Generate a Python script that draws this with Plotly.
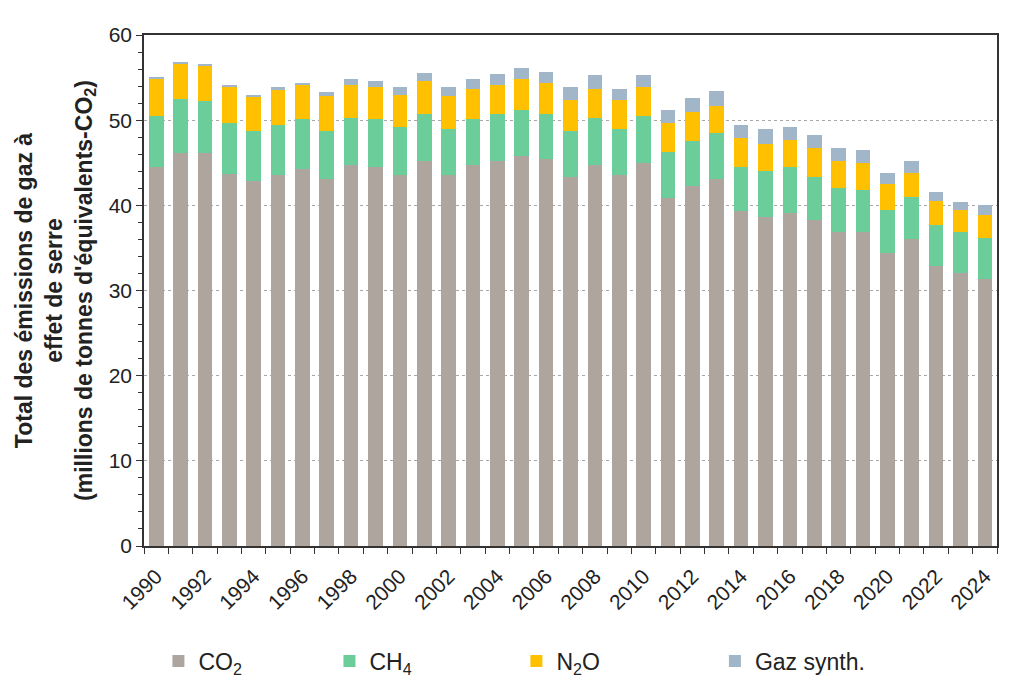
import plotly.graph_objects as go

years = list(range(1990, 2025))
co2 = [44.5, 46.2, 46.2, 43.7, 42.9, 43.6, 44.25, 43.1, 44.7, 44.5,
       43.55, 45.2, 43.55, 44.7, 45.2, 45.85, 45.4, 43.35, 44.7, 43.6,
       44.95, 40.9, 42.25, 43.15, 39.35, 38.65, 39.15, 38.25, 36.9, 36.9,
       34.45, 36.05, 32.9, 32.0, 31.35]
ch4 = [6.0, 6.26, 6.1, 5.95, 5.85, 5.8, 5.85, 5.65, 5.6, 5.6,
       5.6, 5.5, 5.45, 5.4, 5.55, 5.3, 5.35, 5.4, 5.6, 5.4,
       5.55, 5.35, 5.35, 5.35, 5.1, 5.4, 5.3, 5.05, 5.1, 4.95,
       4.95, 4.9, 4.85, 4.85, 4.8]
n2o = [4.35, 4.15, 4.15, 4.35, 4.05, 4.1, 4.1, 4.05, 3.85, 3.85,
       3.85, 3.9, 3.8, 3.6, 3.4, 3.65, 3.65, 3.6, 3.4, 3.35,
       3.45, 3.45, 3.4, 3.2, 3.45, 3.15, 3.2, 3.45, 3.2, 3.1,
       3.15, 2.9, 2.75, 2.55, 2.75]
synth = [0.15, 0.15, 0.15, 0.15, 0.2, 0.4, 0.15, 0.5, 0.65, 0.6,
         0.9, 0.9, 1.1, 1.1, 1.3, 1.35, 1.3, 1.55, 1.55, 1.35,
         1.3, 1.5, 1.55, 1.7, 1.55, 1.75, 1.55, 1.55, 1.55, 1.55,
         1.25, 1.3, 1.05, 1.05, 1.1]

series_names = ["CO<sub>2</sub>", "CH<sub>4</sub>", "N<sub>2</sub>O", "Gaz synth."]
series_values = [co2, ch4, n2o, synth]
colors = ["#AEA69E", "#6ACD9A", "#FFC000", "#A2B6C9"]
legend_ids = ["legend", "legend2", "legend3", "legend4"]
legend_x = [0.0169, 0.2174, 0.4366, 0.6693]

tick_years = list(range(1990, 2025, 2))
y_ticks = [0, 10, 20, 30, 40, 50, 60]

font_family = "Liberation Sans, Arial, sans-serif"

fig = go.Figure()
for name, vals, col, lg in zip(series_names, series_values, colors, legend_ids):
    fig.add_trace(go.Bar(x=years, y=vals, name=name, marker_color=col,
                         marker_line_width=0, legend=lg))

layout_legends = {}
for lg, lx in zip(legend_ids, legend_x):
    layout_legends[lg] = dict(x=lx, y=-0.225, xanchor="left", yanchor="middle",
                              orientation="h", bgcolor="rgba(0,0,0,0)",
                              font=dict(family=font_family, size=23, color="#222"),
                              itemwidth=30)

fig.update_layout(
    width=1024, height=693,
    margin=dict(l=136, r=35, t=27, b=155),
    barmode="stack", bargap=0.4,
    plot_bgcolor="white", paper_bgcolor="white",
    font=dict(family=font_family, size=21, color="#222"),
    showlegend=True,
    **layout_legends,
)

fig.update_xaxes(
    range=[1989.5, 2024.5],
    tickmode="array", tickvals=tick_years, ticktext=[str(y) for y in tick_years],
    tickangle=-45, ticks="", ticklabelstandoff=8,
    showline=True, linecolor="#333", linewidth=1.5, mirror=True,
    showgrid=False, zeroline=False,
    tickfont=dict(size=21, color="#222"),
    minor=dict(ticks="outside", tick0=1989.5, dtick=1, ticklen=6, tickcolor="#333", tickwidth=1.2),
)
fig.update_yaxes(
    range=[0, 60],
    tickmode="array", tickvals=y_ticks,
    ticks="outside", ticklen=6, tickcolor="#333", tickwidth=1.2,
    showline=True, linecolor="#333", linewidth=1.5, mirror=True,
    showgrid=True, gridcolor="#A8A8A8", griddash="dot", gridwidth=1,
    zeroline=False,
    tickfont=dict(size=21, color="#222"),
    minor=dict(ticks="outside", dtick=2, ticklen=4, tickcolor="#333", showgrid=False),
    title=dict(text="<b>Total des émissions de gaz à<br>effet de serre<br>(millions de tonnes d'équivalents-CO<sub>2</sub>)</b>",
               font=dict(size=23, color="#222"), standoff=10),
)

fig.write_html("out.html")
